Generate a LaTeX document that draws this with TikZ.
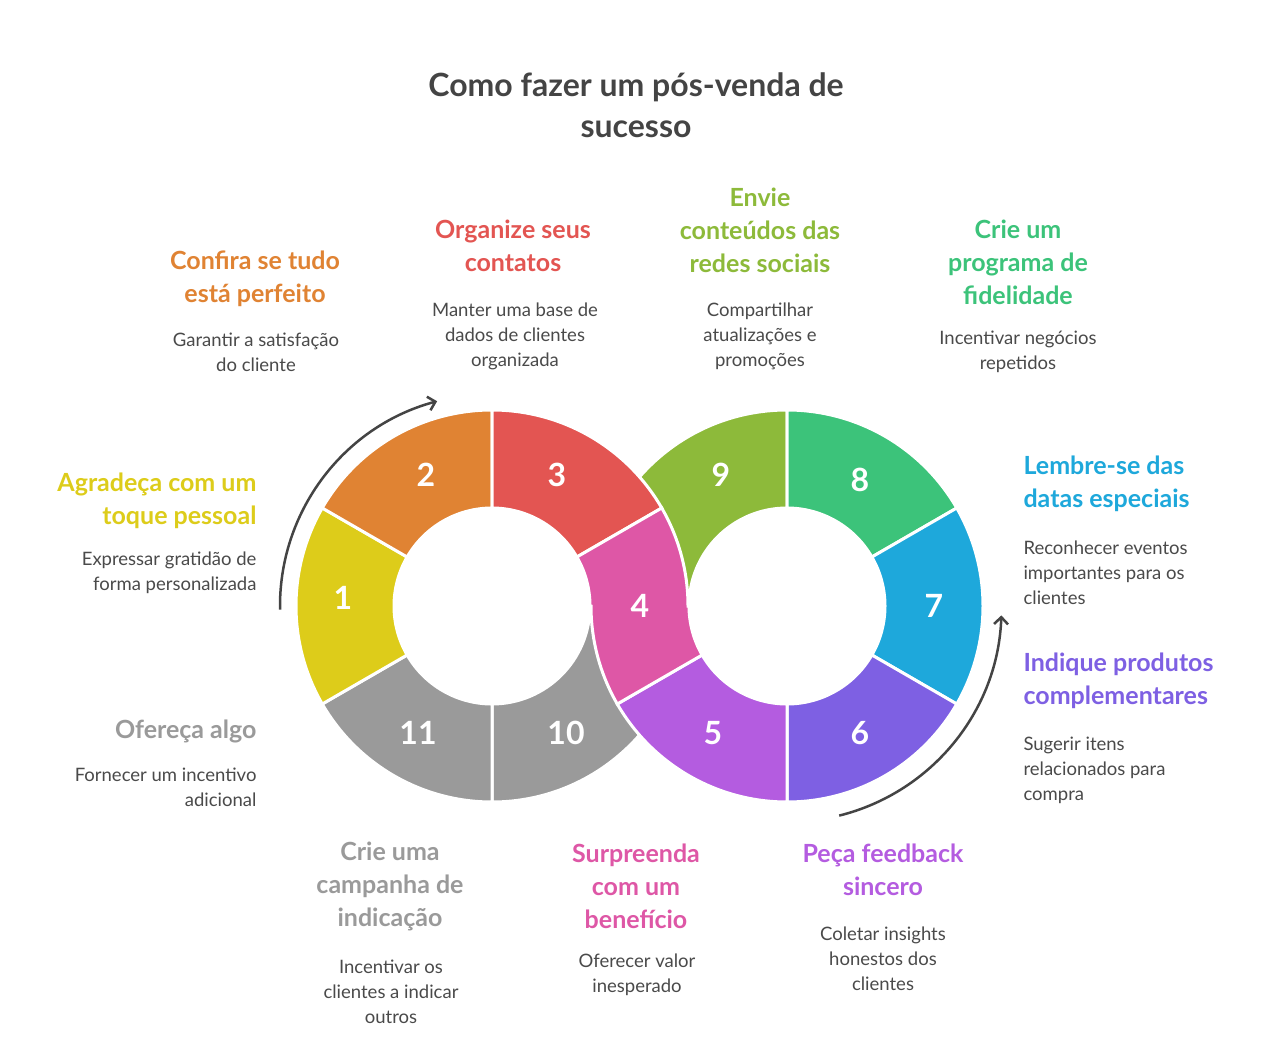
\documentclass[tikz,border=0pt]{standalone}
\usepackage{fontspec}
\setmainfont{Lato}
\usetikzlibrary{calc,arrows.meta}
\definecolor{cY}{HTML}{DDCC1A}
\definecolor{cO}{HTML}{E08333}
\definecolor{cR}{HTML}{E35552}
\definecolor{cP}{HTML}{DE57A6}
\definecolor{cV}{HTML}{B45CE0}
\definecolor{cI}{HTML}{7E60E3}
\definecolor{cB}{HTML}{1EA8DB}
\definecolor{cG}{HTML}{3CC37A}
\definecolor{cL}{HTML}{8DBA3A}
\definecolor{cA}{HTML}{9A9A9A}
\definecolor{cT}{HTML}{444444}
\definecolor{cD}{HTML}{4A4A4A}
\newcommand\annsec[4]{\fill[#1,draw=white,line width=3] ($(#2)+(#3:196)$) arc[start angle=#3,end angle=#4,radius=196] -- ($(#2)+(#4:98)$) arc[start angle=#4,end angle=#3,radius=98] -- cycle;}
\begin{document}
\begin{tikzpicture}[x=1pt,y=-1pt,
  num/.style={text=white,font=\fontsize{32}{36}\selectfont\bfseries},
  ttl/.style={font=\fontsize{25}{33}\selectfont\bfseries,align=center},
  dsc/.style={text=cD,font=\fontsize{18.5}{25}\selectfont,align=center},
  arr/.style={draw=cT,line width=2.5,-{Straight Barb[length=7pt,width=14pt]}}]
\useasboundingbox[fill=white] (0,0) rectangle (1280,1043);
\coordinate (L) at (492,606);
\coordinate (R) at (787,606);
\annsec{cL}{R}{-90}{-180}
\annsec{cA}{L}{0}{90}
\annsec{cA}{L}{150}{90}
\annsec{cY}{L}{210}{150}
\annsec{cO}{L}{-90}{-150}
\annsec{cR}{L}{-30}{-90}
\annsec{cG}{R}{-30}{-90}
\annsec{cB}{R}{30}{-30}
\annsec{cI}{R}{90}{30}
\annsec{cV}{R}{150}{90}
\fill[cP,draw=white,line width=3] ($(L)+(-30:98)$) -- ($(L)+(-30:196)$) arc[start angle=-30,end angle=0,radius=196] -- ($(R)+(180:98)$) arc[start angle=180,end angle=150,radius=98] -- ($(R)+(150:196)$) arc[start angle=150,end angle=180,radius=196] -- ($(L)+(0:98)$) arc[start angle=0,end angle=-30,radius=98] -- cycle;
\node[num] (n1) at (343,598) {1};
\node[num] (n2) at (426,475) {2};
\node[num] (n3) at (557,475) {3};
\node[num] (n4) at (640,606) {4};
\node[num] (n5) at (713,733) {5};
\node[num] (n6) at (860,733) {6};
\node[num] (n7) at (934,606) {7};
\node[num] (n8) at (860,480) {8};
\node[num] (n9) at (721,475) {9};
\node[num] (n10) at (566,733) {10};
\node[num] (n11) at (418,733) {11};
\coordinate (a1s) at ($(L)+(-181:212)$);
\draw[arr] (a1s) arc[start angle=-181,end angle=-105,radius=212];
\coordinate (a2s) at ($(R)+(76:216)$);
\draw[arr] (a2s) arc[start angle=76,end angle=2,radius=214];
\node[text=cT,font=\fontsize{32}{41}\selectfont\bfseries,align=center] (title) at (636,105) {Como fazer um pós-venda de\\sucesso};
\node[ttl,text=cO] (t2) at (255,279) {Confira se tudo\\está perfeito};
\node[dsc] (d2) at (256,352) {Garantir a satisfação\\do cliente};
\node[ttl,text=cR] (t3) at (513,246) {Organize seus\\contatos};
\node[dsc] (d3) at (515,336) {Manter uma base de\\dados de clientes\\organizada};
\node[ttl,text=cL] (t9) at (760,230) {Envie\\conteúdos das\\redes sociais};
\node[dsc] (d9) at (760,336) {Compartilhar\\atualizações e\\promoções};
\node[ttl,text=cG] (t8) at (1018,262) {Crie um\\programa de\\fidelidade};
\node[dsc] (d8) at (1018,352) {Incentivar negócios\\repetidos};
\node[ttl,text=cB,align=left,anchor=west] (t7) at (1020,484) {Lembre-se das\\datas especiais};
\node[dsc,align=left,anchor=west] (d7) at (1020,573) {Reconhecer eventos\\importantes para os\\clientes};
\node[ttl,text=cI,align=left,anchor=west] (t6) at (1020,681) {Indique produtos\\complementares};
\node[dsc,align=left,anchor=west] (d6) at (1020,770) {Sugerir itens\\relacionados para\\compra};
\node[ttl,text=cV] (t5) at (883,870) {Peça feedback\\sincero};
\node[dsc] (d5) at (883,959) {Coletar insights\\honestos dos\\clientes};
\node[ttl,text=cP] (t4) at (636,886) {Surpreenda\\com um\\benefício};
\node[dsc] (d4) at (637,975) {Oferecer valor\\inesperado};
\node[ttl,text=cA] (t10) at (390,886) {Crie uma\\campanha de\\indicação};
\node[dsc] (d10) at (391,992) {Incentivar os\\clientes a indicar\\outros};
\node[ttl,text=cA,align=right,anchor=east] (t11) at (260,731) {Ofereça algo};
\node[dsc,align=right,anchor=east] (d11) at (260,787) {Fornecer um incentivo\\adicional};
\node[ttl,text=cY,align=right,anchor=east] (t1) at (260,501) {Agradeça com um\\toque pessoal};
\node[dsc,align=right,anchor=east] (d1) at (260,573) {Expressar gratidão de\\forma personalizada};
\end{tikzpicture}
\end{document}
